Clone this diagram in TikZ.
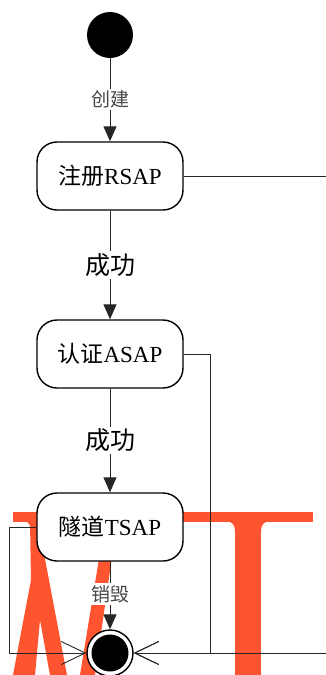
\documentclass[tikz,border=0pt]{standalone}
\usepackage{fontspec}
\setmainfont{Liberation Serif}
\newfontfamily\cjk{Noto Sans CJK SC}
\usetikzlibrary{arrows.meta}
\definecolor{wm}{RGB}{255,84,48}
\definecolor{lblgray}{RGB}{70,70,70}
\begin{document}
\begin{tikzpicture}[x=1pt,y=-1pt,
  statebox/.style={draw, line width=1.4pt, fill=white, rounded corners=20pt,
    minimum width=146pt, minimum height=68pt, inner sep=0pt,
    font=\fontsize{23}{26}\selectfont},
  conn/.style={draw=black!85, line width=0.9pt},
  filltip/.style={conn, -{Triangle[length=15pt,width=13pt]}},
  opentip/.style={conn, -{Straight Barb[length=24pt,width=23pt,line width=0.9pt]}},
  smalllbl/.style={fill=white, inner sep=2pt, text=lblgray, font=\cjk\fontsize{19}{21}\selectfont},
  biglbl/.style={fill=white, inner sep=2pt, text=black, font=\cjk\fontsize{25}{27}\selectfont}
]
\useasboundingbox (0,0) rectangle (326,675);
% background watermark shapes
\fill[wm] (13,512) rectangle (313,522);
\fill[wm] (30,522) -- (38,522) -- (67,675) -- (50,675) -- (40,620) -- (35,675) -- (13,675) -- (31,580) -- cycle;
\fill[wm] (24,521) .. controls (29,522) and (31,525) .. (31,532) -- (32,521) -- cycle;
\fill[wm] (105,522) -- (117,522) -- (95,675) -- (80,675) -- cycle;
\fill[wm] (235,522) rectangle (261,675);
\fill[wm] (226,521) .. controls (233,522) and (235,525) .. (235,532) -- (236,521) -- cycle;
\fill[wm] (270,521) .. controls (263,522) and (261,525) .. (261,532) -- (260,521) -- cycle;

% nodes
\node[circle, fill=black, minimum size=46pt, inner sep=0pt] (init) at (110,35) {};
\node[statebox] (s1) at (110,176) {{\cjk 注册}RSAP};
\node[statebox] (s2) at (110,354) {{\cjk 认证}ASAP};
\node[statebox] (s3) at (110,527) {{\cjk 隧道}TSAP};
\node[circle, draw, line width=1.4pt, fill=white, minimum size=46pt, inner sep=0pt] (fin) at (110,653) {};
\fill (fin.center) circle (18.5pt);

\coordinate (r1) at (326,176);
\coordinate (rb) at (326,653);
\coordinate (c2) at (210,653);
\coordinate (c3) at (9,653);

% connectors
\draw[filltip] (init) -- node[smalllbl] {创建} (s1);
\draw[filltip] (s1) -- node[biglbl] {成功} (s2);
\draw[filltip] (s2) -- node[biglbl] {成功} (s3);
\draw[filltip] (s3) -- node[smalllbl, pos=0.48] {销毁} (fin);
\draw[conn] (s1.east) -- (r1);
\draw[opentip] (s2.east) -| (c2) -- (fin);
\draw[opentip] (s3.west) -| (c3) -- (fin);
\draw[opentip] (rb) -- (fin);
\end{tikzpicture}
\end{document}
